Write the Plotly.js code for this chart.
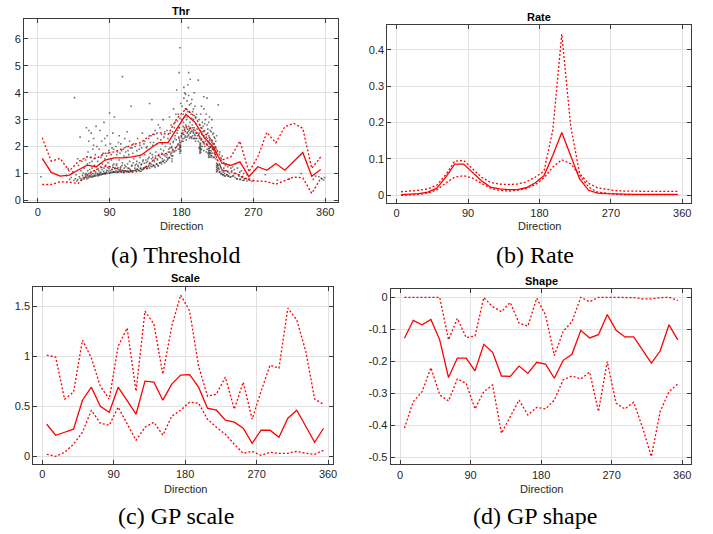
<!DOCTYPE html>
<html><head><meta charset="utf-8">
<script src="https://cdn.plot.ly/plotly-3.0.1.min.js"></script>
<style>html,body{margin:0;padding:0;background:#fff;} #chart{width:713px;height:534px;}</style>
</head><body><div id="chart"></div>
<script>
// ---- data ----
const directions = [5.625,16.875,28.125,39.375,50.625,61.875,73.125,84.375,95.625,106.875,118.125,129.375,140.625,151.875,163.125,174.375,185.625,196.875,208.125,219.375,230.625,241.875,253.125,264.375,275.625,286.875,298.125,309.375,320.625,331.875,343.125,354.375];

const thrMid = [1.56,1.04,0.9,0.94,1.13,1.31,1.25,1.5,1.58,1.58,1.62,1.68,1.93,2.15,2.15,2.7,3.2,2.9,2.35,2.0,1.38,1.3,1.43,0.88,1.25,1.12,1.37,1.12,1.45,1.78,0.9,1.15];
const thrUp  = [2.33,1.46,1.56,1.09,1.44,1.62,1.56,1.75,1.8,1.93,2.06,2.15,2.42,2.52,2.45,3.05,3.4,3.1,2.55,2.2,1.5,1.62,2.2,1.06,1.62,2.53,2.14,2.74,2.86,2.68,1.19,1.62];
const thrLo  = [0.59,0.59,0.69,0.68,0.63,0.94,1.14,1.27,1.22,1.1,1.05,1.08,1.38,1.7,1.75,2.0,2.75,2.6,2.15,1.9,1.13,1.06,0.94,0.75,0.72,0.7,0.6,0.75,0.87,0.84,0.26,0.82];

const rateMid = [0.002,0.003,0.005,0.009,0.02,0.05,0.086,0.086,0.064,0.04,0.023,0.018,0.016,0.016,0.021,0.034,0.054,0.11,0.173,0.106,0.045,0.014,0.0065,0.005,0.004,0.0035,0.003,0.003,0.003,0.003,0.003,0.003];
const rateUp  = [0.01,0.011,0.014,0.018,0.028,0.057,0.094,0.096,0.073,0.05,0.036,0.031,0.03,0.031,0.037,0.05,0.066,0.18,0.443,0.19,0.06,0.033,0.021,0.016,0.013,0.012,0.011,0.011,0.011,0.011,0.011,0.011];
const rateLo  = [0.0,0.001,0.003,0.0065,0.015,0.034,0.05,0.054,0.048,0.033,0.02,0.014,0.012,0.014,0.019,0.029,0.048,0.078,0.098,0.087,0.054,0.023,0.009,0.005,0.003,0.002,0.002,0.002,0.002,0.002,0.002,0.002];

const scaleMid = [0.32,0.21,0.24,0.27,0.56,0.69,0.5,0.44,0.69,0.56,0.42,0.75,0.74,0.56,0.72,0.81,0.815,0.69,0.48,0.46,0.36,0.34,0.28,0.13,0.26,0.26,0.19,0.38,0.46,0.3,0.14,0.28];
const scaleUp  = [1.01,0.99,0.57,0.64,1.16,0.98,0.7,0.57,1.1,1.28,0.65,1.45,1.32,0.82,1.3,1.61,1.45,0.9,0.6,0.62,0.79,0.47,0.74,0.37,0.65,0.91,0.88,1.48,1.36,1.05,0.57,0.52];
const scaleLo  = [0.02,0.0,0.04,0.12,0.24,0.46,0.33,0.31,0.49,0.33,0.16,0.29,0.34,0.21,0.4,0.46,0.54,0.53,0.37,0.29,0.22,0.12,0.03,0.05,0.01,0.04,0.03,0.03,0.05,0.03,0.02,0.06];

const shapeMid = [-0.128,-0.072,-0.086,-0.069,-0.133,-0.251,-0.19,-0.19,-0.23,-0.147,-0.172,-0.246,-0.247,-0.215,-0.238,-0.203,-0.209,-0.253,-0.197,-0.178,-0.103,-0.127,-0.117,-0.054,-0.103,-0.124,-0.124,-0.165,-0.206,-0.168,-0.086,-0.133];
const shapeUp  = [0,0,0,0,0,-0.133,-0.066,-0.126,-0.121,-0.001,-0.029,-0.045,-0.016,-0.081,-0.09,-0.003,-0.055,-0.182,-0.107,-0.076,0,-0.014,0,0,0,0,-0.001,-0.005,-0.005,-0.001,0,-0.01];
const shapeLo  = [-0.409,-0.326,-0.295,-0.22,-0.305,-0.324,-0.255,-0.269,-0.349,-0.295,-0.274,-0.425,-0.373,-0.321,-0.368,-0.344,-0.349,-0.321,-0.258,-0.246,-0.255,-0.234,-0.357,-0.201,-0.331,-0.349,-0.328,-0.407,-0.498,-0.357,-0.295,-0.271];

const thrPoints = [
[4,0.88],[36,0.92],[38,1.18],[40,0.78],[42,0.85],[43,1.0],[44,1.06],[45,0.74],[46,3.82],[47,0.8],[48,0.95],[49,0.72],[50,0.77],[51,1.3],[52,0.88],[53,0.82],[54,1.1],[54,0.75],[55,0.79],[56,0.93],[57,0.85],[57,1.02],[58,0.8],[58,1.2],[50,1.55],[55,1.45],[53,2.35],
[59,0.84],[59.5,0.96],[60,0.9],[60.5,1.0],[61,0.86],[61.5,0.8],[62,0.95],[62.5,1.1],[63,0.88],[63.5,0.83],[64,1.0],[64.5,0.92],[65,1.15],[65.5,0.87],[66,0.9],[66.5,1.05],[67,0.96],[67.5,0.86],[68,1.2],[68.5,0.9],[69,1.0],[69.5,0.88],[70,1.1],[70.5,0.93],[71,1.3],[71.5,0.9],[72,0.98],[72.5,1.05],[73,0.92],[73.5,1.25],[74,1.15],[74.5,1.0],[75,0.95],[75.5,0.91],
[60,1.5],[61,2.7],[62,1.35],[63,1.8],[64,2.2],[65,1.4],[66,1.6],[67,2.5],[68,1.45],[69,1.9],[70,2.3],[71,1.55],[72,1.7],[73,2.75],[74,2.0],[75,1.45],[64,2.6],[70,2.05],
[76,0.96],[76.5,1.1],[77,1.02],[77.5,0.94],[78,0.98],[78.5,1.25],[79,1.05],[79.5,0.95],[80,0.99],[80.5,1.15],[81,1.35],[81.5,0.97],[82,1.0],[82.5,1.08],[83,1.2],[83.5,0.98],[84,1.02],[84.5,0.99],[85,1.3],[85.5,1.0],[86,1.05],[86.5,1.12],[87,1.0],[87.5,1.22],[88,1.4],[88.5,1.08],[89,1.18],[89.5,1.01],[90,1.02],[90.5,1.25],[91,1.1],[91.5,1.03],[92,1.5],[92.5,1.15],[93,1.04],[93.5,1.15],[94,1.3],[94.5,1.05],[95,1.06],[95.5,1.35],
[77,1.9],[78,2.6],[79,1.6],[80,2.2],[81,1.7],[82,1.75],[83,2.9],[84,1.55],[85,2.05],[86,1.65],[87,2.4],[88,1.75],[89,1.85],[90,3.25],[91,2.1],[92,1.7],[93,1.95],[94,2.5],[95,1.9],[96,3.1],[84,2.3],
[96,1.05],[96.5,1.18],[97,1.2],[97.5,1.04],[98,1.1],[98.5,1.3],[99,1.35],[99.5,1.07],[100,1.04],[100.5,1.22],[101,1.15],[101.5,1.06],[102,1.5],[102.5,1.12],[103,1.08],[103.5,1.2],[104,1.25],[104.5,1.06],[105,1.06],[105.5,1.3],[106,1.4],[106.5,1.1],[107,1.12],[107.5,1.05],[108,1.03],[108.5,1.2],[109,1.3],[109.5,1.1],[110,1.08],[110.5,1.25],[111,1.6],[111.5,1.06],[112,1.1],[112.5,1.35],[113,1.2],[113.5,1.07],[114,1.05],[114.5,1.18],[115,1.45],[115.5,1.1],[116,1.15],[116.5,1.08],[117,1.08],[117.5,1.28],[118,1.3],[118.5,1.1],[119,1.1],[119.5,1.4],[120,1.55],
[98,2.0],[99,1.7],[100,1.8],[101,2.15],[102,2.4],[103,1.75],[104,2.1],[105,1.85],[106,4.6],[107,1.9],[108,1.65],[109,2.3],[110,1.8],[111,2.0],[112,2.55],[113,1.85],[114,1.7],[115,2.2],[116,1.95],[117,3.5],[118,1.95],[119,1.75],[120,2.1],
[121,1.1],[121.5,1.2],[122,1.3],[122.5,1.13],[123,1.12],[123.5,1.35],[124,1.45],[124.5,1.16],[125,1.15],[125.5,1.3],[126,1.25],[126.5,1.12],[127,1.1],[127.5,1.4],[128,1.6],[128.5,1.18],[129,1.2],[129.5,1.32],[130,1.35],[130.5,1.15],[131,1.14],[131.5,1.45],[132,1.5],[132.5,1.2],[133,1.2],[133.5,1.38],[134,1.7],[134.5,1.22],[135,1.25],[135.5,1.5],[136,1.4],[136.5,1.2],[137,1.18],[137.5,1.45],[138,1.55],[138.5,1.25],[139,1.3],[139.5,1.6],[140,1.2],[140.5,1.4],[141,1.75],[141.5,1.28],[142,1.35],[142.5,1.55],[143,1.25],[143.5,1.7],[144,1.6],[144.5,1.3],[145,1.3],[145.5,1.5],[146,1.45],[146.5,1.28],[147,1.22],[147.5,1.65],[148,1.8],[148.5,1.35],[149,1.35],[149.5,1.55],[150,1.5],[150.5,1.3],[151,1.28],[151.5,1.7],[152,1.65],[152.5,1.4],[153,1.4],[153.5,1.6],[154,1.9],[154.5,1.42],[155,1.35],[155.5,1.75],[156,1.55],[156.5,1.45],[157,1.45],[157.5,1.85],[158,1.7],[158.5,1.5],[159,1.4],[159.5,1.65],[160,2.0],
[122,2.0],[124,1.85],[125,2.3],[127,1.9],[128,2.05],[130,1.95],[131,2.5],[133,2.1],[134,2.2],[136,1.95],[137,2.0],[139,2.3],[140,3.6],[141,2.15],[142,2.4],[144,2.05],[145,2.15],[146,2.45],[147,2.6],[149,2.1],[150,2.3],[151,2.8],[153,2.7],[154,2.25],[155,2.45],[156,2.1],[157,3.0],[158,2.35],[159,2.55],[143,3.0],
[168,1.45],[168,1.55],[168,1.65],
[161,1.45],[161.5,1.6],[162,1.7],[162.5,1.5],[163,1.55],[163.5,1.8],[164,1.9],[164.5,1.58],[165,1.6],[165.5,1.95],[166,2.1],[166.5,1.7],[167,1.75],[167.5,2.0],[168,1.95],[168.5,1.8],[169,1.65],[169.5,2.15],[170,2.2],[170.5,1.85],[171,1.8],[171.5,2.3],[172,2.4],[172.5,1.95],[173,1.85],[173.5,2.25],[174,2.0],[174.5,2.5],[175,2.6],[175.5,2.05],[176,1.9],[176.5,2.35],[177,2.3],[177.5,2.7],[178,1.95],[178.5,2.05],[179,2.15],[179.5,2.4],[180,2.5],[180.5,2.2],
[178,1.75],[178,1.82],[178,1.9],[178,1.98],[178,2.06],[178,2.14],[179,1.85],[179,2.0],
[162,2.6],[163,2.3],[165,3.1],[166,2.5],[167,2.8],[169,2.55],[170,3.4],[171,2.7],[172,2.9],[173,3.2],[174,4.1],[175,2.95],[176,3.2],[177,2.7],[178,3.05],[179,3.6],[180,3.0],
[181,2.3],[181.5,2.6],[182,2.2],[182.5,2.9],[183,2.45],[183.5,2.7],[184,3.1],[184.5,2.35],[185,2.55],[185.5,2.8],[186,2.25],[186.5,3.0],[187,2.5],[187.5,2.65],[188,3.3],[188.5,2.4],[189,2.75],[189.5,2.6],[190,2.3],[190.5,2.9],[191,2.5],[191.5,2.7],[192,3.2],[192.5,2.35],[193,2.6],[193.5,2.8],[194,2.4],[194.5,2.55],[195,3.0],[195.5,2.3],[196,2.7],[196.5,2.45],[197,2.6],[197.5,2.2],[198,2.85],[198.5,2.5],[199,2.3],[199.5,2.65],[200,2.4],
[181,2.45],[182,2.75],[183,2.3],[184,2.6],[185,2.4],[186,2.7],[187,2.35],[188,2.55],[189,2.45],[190,2.65],[191,2.35],[192,2.55],[193,2.3],[194,2.7],[195,2.5],[196,2.3],[197,2.4],[198,2.3],[199,2.5],
[181,3.5],[182,3.2],[183,3.8],[184,4.0],[185,3.4],[186,3.4],[187,3.7],[188,4.3],[189,3.9],[190,3.3],[191,4.5],[192,3.6],[193,3.75],[194,3.3],[195,3.4],[196,4.0],[197,3.5],[198,3.1],[199,3.2],[201,4.47],[178,5.67],[188.6,6.42],[177,4.75],[189,4.75],[183,4.2],[185,3.95],[187,3.1],[190,3.55],[193,3.05],[196,3.15],
[203,1.75],[203,1.82],[203,1.9],[203,1.98],[203,2.06],[203,2.14],[204,1.78],[204,1.86],[204,1.94],[204,2.02],[204,2.1],
[214,1.6],[214,1.68],[214,1.76],[214,1.84],[214,1.92],[214,2.0],[215,1.62],[215,1.7],[215,1.78],[215,1.86],[215,1.94],[217,1.6],[217,1.68],[217,1.76],[217,1.84],
[224,1.06],[224,1.14],[224,1.22],[224,1.3],[224,1.38],[225,1.1],[225,1.18],[225,1.26],[225,1.34],
[201,2.2],[201.5,2.45],[202,2.5],[202.5,2.3],[203,2.35],[203.5,2.6],[204,2.7],[204.5,2.25],[205,2.3],[205.5,2.45],[206,2.55],[206.5,2.2],[207,2.15],[207.5,2.4],[208,2.4],[208.5,2.1],[209,2.6],[209.5,2.3],[210,2.2],[210.5,2.45],[211,2.35],[211.5,2.1],[212,2.05],[212.5,2.3],[213,2.5],[213.5,2.15],[214,2.2],[214.5,2.4],[215,2.1],[215.5,2.25],[216,2.3],[216.5,2.0],[217,2.0],[217.5,2.2],[218,2.15],[218.5,1.95],[219,1.9],[219.5,2.1],[220,2.1],[220.5,1.9],[221,1.85],[221.5,2.0],[222,1.95],[222.5,1.8],[223,1.7],[223.5,1.9],[224,1.8],[225,1.5],
[202,1.95],[205,1.9],[206,2.0],[208,1.85],[209,2.0],[211,1.8],[212,1.9],[213,1.75],[216,1.75],[218,1.65],[219,1.75],[220,1.6],[221,1.6],[222,1.7],[223,1.55],
[202,3.0],[203,2.8],[204,3.2],[205,3.5],[206,2.9],[207,2.75],[208,3.4],[209,2.85],[210,3.0],[211,3.2],[212,2.8],[213,2.65],[214,2.9],[215,3.1],[216,2.6],[217,2.55],[218,2.7],[219,2.45],[220,2.5],[221,2.35],[222,2.3],[223,2.2],[224,2.4],[226,3.55],[212,3.8],[208,3.85],[218,3.0],
[226,1.3],[226.5,1.2],[227,1.15],[227.5,1.05],[228,1.05],[228.5,1.3],[229,1.25],[229.5,0.98],[230,1.0],[230.5,1.15],[231,1.1],[231.5,0.95],[232,0.95],[232.5,1.05],[233,1.2],[233.5,0.92],[234,1.0],[234.5,1.1],[235,0.9],[236,1.1],[236.5,0.95],[237,0.95],[238,1.05],[238.5,0.9],[239,0.9],[240,1.0],[241,0.86],[242,0.88],[243,1.1],[244,0.9],[245,0.92],[246,1.0],[247,0.85],[248,1.0],[249,0.8],[250,0.8],[251,0.95],[252,0.9],[253,0.78],[254,0.78],[255,0.88],[256,0.85],[257,0.74],[258,0.75],[259,0.8],[260,0.82],[262,0.72],[264,0.78],[265,0.8],[268,0.7],[270,0.74],
[228,1.8],[230,1.5],[231,1.65],[233,1.4],[235,1.3],[236,1.35],[238,1.25],[240,1.3],[242,1.2],[244,1.25],[246,1.15],[248,1.35],[250,1.2],[253,1.05],[255,1.1],[258,1.0],[262,0.95],
[285,0.95],[300,0.75],[315,0.8],[330,1.0],[345,0.78],[348,0.9],[352,0.88],[355,0.82],[356,0.8],[358,0.76],[359,0.85]
];

const xTickVals = [0,90,180,270,360];
const xTickText = ['0','90','180','270','360'];
const thrTickVals = [0,1,2,3,4,5,6];
const thrTickText = ['0','1','2','3','4','5','6'];
const rateTickVals = [0,0.1,0.2,0.3,0.4];
const rateTickText = ['0','0.1','0.2','0.3','0.4'];
const scaleTickVals = [0,0.5,1,1.5];
const scaleTickText = ['0','0.5','1','1.5'];
const shapeTickVals = [0,-0.1,-0.2,-0.3,-0.4,-0.5];
const shapeTickText = ['0','-0.1','-0.2','-0.3','-0.4','-0.5'];

const panelTitles = ['Thr','Rate','Scale','Shape'];
const captions = ['(a) Threshold','(b) Rate','(c) GP scale','(d) GP shape'];
const xLabel = 'Direction';

// ---- drawing ----
const W = 713, H = 534;
const px = v => v / W;
const py = v => 1 - v / H;
const RED = '#ff0000';
const sans = 'Liberation Sans, Arial, Helvetica, sans-serif';
const serif = 'Liberation Serif, Times New Roman, Times, serif';

function lineTrace(y, xa, ya, dotted) {
  return {x: directions, y: y, xaxis: xa, yaxis: ya, type: 'scatter', mode: 'lines',
    line: {color: RED, width: 1.3, dash: dotted ? '2px,2px' : 'solid'},
    hoverinfo: 'skip', showlegend: false};
}

const traces = [
  {x: thrPoints.map(p => p[0]), y: thrPoints.map(p => p[1]), xaxis: 'x', yaxis: 'y',
   type: 'scatter', mode: 'markers', marker: {symbol: 'square', size: 1.6, color: 'rgba(0,0,0,0.55)', line: {width: 0}},
   hoverinfo: 'skip', showlegend: false},
  lineTrace(thrLo, 'x', 'y', true), lineTrace(thrUp, 'x', 'y', true), lineTrace(thrMid, 'x', 'y', false),
  lineTrace(rateLo, 'x2', 'y2', true), lineTrace(rateUp, 'x2', 'y2', true), lineTrace(rateMid, 'x2', 'y2', false),
  lineTrace(scaleLo, 'x3', 'y3', true), lineTrace(scaleUp, 'x3', 'y3', true), lineTrace(scaleMid, 'x3', 'y3', false),
  lineTrace(shapeLo, 'x4', 'y4', true), lineTrace(shapeUp, 'x4', 'y4', true), lineTrace(shapeMid, 'x4', 'y4', false)
];

const common = {
  showline: true, mirror: 'ticks', linecolor: '#3c3c3c', linewidth: 1,
  ticks: 'inside', ticklen: 4, tickwidth: 1, tickcolor: '#3c3c3c',
  showgrid: true, gridcolor: '#e1e1e1', gridwidth: 1, zeroline: false,
  tickfont: {family: sans, size: 11, color: '#262626'}, fixedrange: true
};
function xAxis(l, r, range, anchor) {
  return Object.assign({}, common, {domain: [px(l), px(r)], range: range, anchor: anchor,
    tickmode: 'array', tickvals: xTickVals, ticktext: xTickText});
}
function yAxis(t, b, range, anchor, vals, text) {
  return Object.assign({}, common, {domain: [py(b), py(t)], range: range, anchor: anchor,
    tickmode: 'array', tickvals: vals, ticktext: text});
}

// plot boxes in pixels: [left, right, top, bottom]
const boxA = [24, 337.7, 19.3, 202];
const boxB = [387.3, 691, 25.3, 202.7];
const boxC = [33.3, 333.3, 287, 464];
const boxD = [390.7, 691, 289.3, 464.3];

const layout = {
  width: W, height: H, margin: {l: 0, r: 0, t: 0, b: 0},
  paper_bgcolor: '#fff', plot_bgcolor: '#fff', showlegend: false,
  xaxis:  xAxis(boxA[0], boxA[1], [-17.2, 375.6], 'y'),
  yaxis:  yAxis(boxA[2], boxA[3], [-0.06, 6.73], 'x', thrTickVals, thrTickText),
  xaxis2: xAxis(boxB[0], boxB[1], [-11.8, 371], 'y2'),
  yaxis2: yAxis(boxB[2], boxB[3], [-0.02, 0.467], 'x2', rateTickVals, rateTickText),
  xaxis3: xAxis(boxC[0], boxC[1], [-11.3, 366.6], 'y3'),
  yaxis3: yAxis(boxC[2], boxC[3], [-0.077, 1.69], 'x3', scaleTickVals, scaleTickText),
  xaxis4: xAxis(boxD[0], boxD[1], [-11.9, 371.2], 'y4'),
  yaxis4: yAxis(boxD[2], boxD[3], [-0.522, 0.025], 'x4', shapeTickVals, shapeTickText),
  annotations: []
};

function ann(text, x, y, font) {
  layout.annotations.push({text: text, x: px(x), y: py(y), xref: 'paper', yref: 'paper',
    xanchor: 'center', yanchor: 'middle', showarrow: false, font: font});
}
const titleFont = {family: sans, size: 11, color: '#000'};
ann('<b>' + panelTitles[0] + '</b>', 181, 11, titleFont);
ann('<b>' + panelTitles[1] + '</b>', 539, 16.7, titleFont);
ann('<b>' + panelTitles[2] + '</b>', 185, 278.3, titleFont);
ann('<b>' + panelTitles[3] + '</b>', 541, 280.7, titleFont);
const labFont = {family: sans, size: 11, color: '#262626'};
ann(xLabel, 181, 226, labFont);
ann(xLabel, 539, 226, labFont);
ann(xLabel, 185, 488.5, labFont);
ann(xLabel, 541, 488.5, labFont);
const capFont = {family: serif, size: 24, color: '#000'};
ann(captions[0], 176, 255, capFont);
ann(captions[1], 535, 255, capFont);
ann(captions[2], 176, 516, capFont);
ann(captions[3], 535, 516, capFont);

Plotly.newPlot('chart', traces, layout, {staticPlot: true, displayModeBar: false});
</script>
</body></html>
